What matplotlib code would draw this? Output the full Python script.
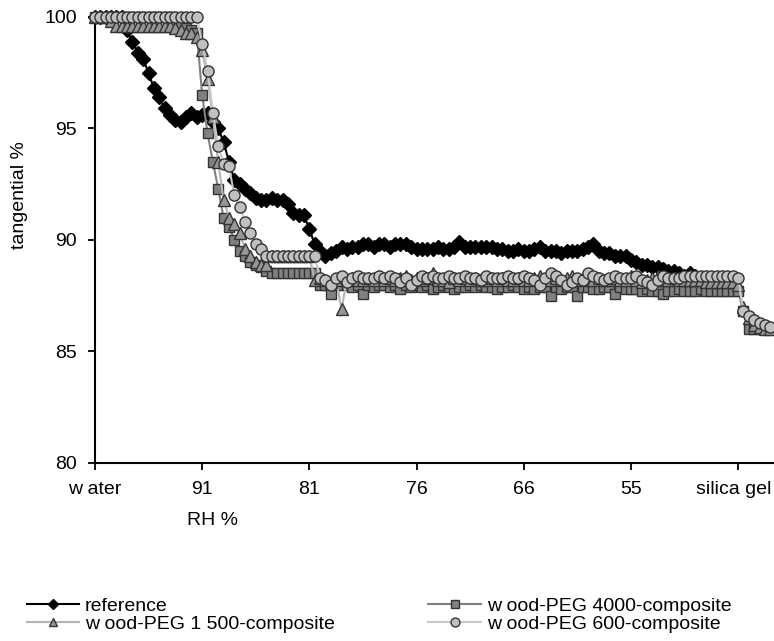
import matplotlib.pyplot as plt
import matplotlib.transforms as mtransforms
import numpy as np

plt.rcParams['font.family'] = ['Liberation Sans', 'DejaVu Sans']

# tick categories (every 20th measurement)
tick_pos = [0, 20, 40, 60, 80, 100, 120]
tick_labels = ["w ater", "91", "81", "76", "66", "55", "silica gel"]

reference = [100, 100, 100, 100, 100, 100,
             99.4, 98.9, 98.4, 98.1, 97.5, 96.8, 96.4, 95.9, 95.6, 95.4,
             95.3, 95.5, 95.7, 95.5, 95.6, 95.7, 95.3, 95.0, 94.4, 93.5,
             92.7, 92.5, 92.3, 92.1, 91.9, 91.8, 91.8, 91.9, 91.8, 91.8,
             91.6, 91.2, 91.1, 91.1, 90.5, 89.8, 89.5, 89.3, 89.4, 89.5,
             89.7, 89.6, 89.7, 89.7, 89.8,
             89.8, 89.7, 89.8, 89.8, 89.7, 89.8, 89.8, 89.8, 89.7, 89.6,
             89.6, 89.6, 89.6, 89.7, 89.6, 89.6, 89.7, 89.9, 89.7, 89.7,
             89.7, 89.7, 89.7, 89.7, 89.6, 89.6, 89.5, 89.5, 89.6, 89.5,
             89.5, 89.6, 89.7, 89.5, 89.5, 89.5, 89.4, 89.5, 89.5, 89.5,
             89.6, 89.7, 89.8, 89.5, 89.4, 89.4, 89.3, 89.3, 89.3, 89.1,
             89.0, 88.9, 88.9, 88.8, 88.8, 88.7, 88.6, 88.6, 88.5, 88.4,
             88.5, 88.4]

peg4000 = [100] * 15 + [
    99.8, 99.6, 99.5, 99.4, 99.3,
    96.5, 94.8, 93.5, 92.3, 91.0, 90.6, 90.0, 89.5, 89.3, 89.0, 88.9, 88.8, 88.6,
    88.5, 88.5, 88.5, 88.5, 88.5, 88.5, 88.5, 88.5, 88.5,
    88.0, 88.0, 87.6, 88.0, 88.0, 88.0, 87.9, 88.0, 87.6,
    88.0, 87.9, 88.0, 88.0, 87.9, 88.0, 87.8, 88.0, 87.9, 88.0,
    87.9, 88.0, 87.8, 87.9, 88.0, 87.9, 87.8, 87.9, 87.9, 88.0,
    87.9, 88.0, 87.9, 87.9, 87.8, 87.9, 87.9, 88.0, 87.9, 87.8,
    87.9, 87.8, 87.9, 87.9, 87.5, 87.9, 87.8, 87.9, 87.9, 87.5,
    87.9, 87.9, 87.8, 87.8, 87.9, 87.9, 87.6, 87.9, 87.8, 87.8,
    87.8, 87.7, 87.8, 87.7, 87.7, 87.6, 87.7, 87.7, 87.8, 87.7,
    87.7, 87.7, 87.8, 87.7, 87.7, 87.7, 87.7, 87.7, 87.7, 87.7,
    86.8, 86.0, 86.0, 86.0, 86.0, 86.0]

peg1500 = [100, 100, 100, 99.8] + [99.6] * 11 + [
    99.5, 99.4, 99.3, 99.3, 99.1,
    98.5, 97.2, 95.5, 93.5, 91.8, 91.0, 90.7, 90.3, 89.6, 89.3, 89.0, 88.9, 88.9,
    89.3, 89.3, 89.3, 89.3, 89.3, 89.3, 89.3, 89.3,
    88.2, 88.3, 88.2, 88.1, 88.2, 86.9, 88.2, 88.3, 88.2, 88.2,
    88.3, 88.2, 88.4, 88.2, 88.3, 88.2, 88.3, 88.4, 88.2, 88.3,
    88.2, 88.3, 88.5, 88.2, 88.2, 88.1, 88.3, 88.2, 88.3, 88.2,
    88.3, 88.2, 88.2, 88.3, 88.2, 88.3, 88.2, 88.2, 88.3, 88.2,
    88.2, 88.3, 88.4, 88.2, 88.2, 88.3, 88.2, 88.3, 88.4, 88.2,
    88.3, 88.2, 88.2, 88.3, 88.2, 88.2, 88.3, 88.2, 88.2, 88.4,
    88.2, 88.1, 88.2, 88.3, 88.4, 88.2, 88.2, 88.3, 88.2, 88.2,
    88.2, 88.2, 88.2, 88.1, 88.1, 88.1, 88.1, 88.1, 88.1, 88.0,
    87.0, 86.5, 86.2, 86.1, 86.0, 86.0]

peg600 = [100] * 20 + [
    98.8, 97.6, 95.7, 94.2, 93.4, 93.3, 92.0, 91.5, 90.8, 90.3, 89.8, 89.6,
    89.3, 89.3, 89.3, 89.3, 89.3, 89.3, 89.3, 89.3, 89.3, 89.3,
    88.3, 88.2, 88.0, 88.3, 88.4, 88.1, 88.3, 88.4, 88.3,
    88.3, 88.3, 88.4, 88.3, 88.4, 88.3, 88.1, 88.3, 88.0, 88.2,
    88.4, 88.3, 88.4, 88.3, 88.3, 88.4, 88.3, 88.3, 88.4, 88.3,
    88.3, 88.2, 88.4, 88.3, 88.3, 88.3, 88.4, 88.3, 88.3, 88.4,
    88.3, 88.2, 88.0, 88.3, 88.5, 88.4, 88.2, 88.0, 88.1, 88.3,
    88.2, 88.5, 88.4, 88.3, 88.2, 88.3, 88.4, 88.3, 88.3, 88.3,
    88.4, 88.2, 88.1, 88.0, 88.2, 88.4, 88.3, 88.3, 88.3, 88.4,
    88.4, 88.4, 88.4, 88.4, 88.4, 88.4, 88.4, 88.4, 88.4, 88.3,
    86.8, 86.6, 86.4, 86.3, 86.2, 86.1]

fig = plt.figure(figsize=(7.74, 6.41), dpi=100)
ax = fig.add_axes([0.1227, 0.2777, 0.8773, 0.6958])

ms = 7.5
h_ref, = ax.plot(np.arange(len(reference)), reference, color='black', lw=1.5,
                 marker='D', ms=ms - 0.5, mfc='black', mec='black', mew=1,
                 clip_on=False, zorder=3)
h_4000, = ax.plot(np.arange(len(peg4000)), peg4000, color='#808080', lw=1.5,
                  marker='s', ms=ms, mfc='#808080', mec='#333333', mew=1,
                  clip_on=False, zorder=4)
h_1500, = ax.plot(np.arange(len(peg1500)), peg1500, color='#b4b4b4', lw=1.5,
                  marker='^', ms=ms + 0.5, mfc='#969696', mec='#333333', mew=1,
                  clip_on=False, zorder=5)
h_600, = ax.plot(np.arange(len(peg600)), peg600, color='#c8c8c8', lw=1.5,
                 marker='o', ms=ms + 0.5, mfc='#c0c0c0', mec='#333333', mew=1,
                 clip_on=False, zorder=6)

ax.set_xlim(0, 126.7)
ax.set_ylim(80, 100)
ax.set_xticks(tick_pos)
ax.set_xticklabels(tick_labels, fontsize=14)
ax.set_yticks([80, 85, 90, 95, 100])
ax.set_yticklabels(["80", "85", "90", "95", "100"], fontsize=14)
ax.tick_params(direction='out', length=5, width=1.3, pad=8)
for s in ['top', 'right']:
    ax.spines[s].set_visible(False)
for s in ['left', 'bottom']:
    ax.spines[s].set_linewidth(1.5)

# keep the last tick label inside the figure edge
last = ax.get_xticklabels()[-1]
last.set_transform(last.get_transform() +
                   mtransforms.ScaledTranslation(-4 / 100, 0, fig.dpi_scale_trans))

fig.text(0.025, 0.695, "tangential %", rotation=90, fontsize=14,
         ha='center', va='center')
fig.text(0.275, 0.188, "RH %", fontsize=14, ha='center', va='center')

leg = fig.legend([h_ref, h_1500, h_4000, h_600],
                 ["reference", "w ood-PEG 1 500-composite",
                  "w ood-PEG 4000-composite", "w ood-PEG 600-composite"],
                 ncol=2, frameon=False, fontsize=14, loc='lower left',
                 bbox_to_anchor=(0.017, -0.008), handlelength=2.7,
                 handletextpad=0.3, columnspacing=4.8, labelspacing=0.0,
                 markerscale=0.8, borderaxespad=0.3)

fig.savefig("out.png", dpi=100)
